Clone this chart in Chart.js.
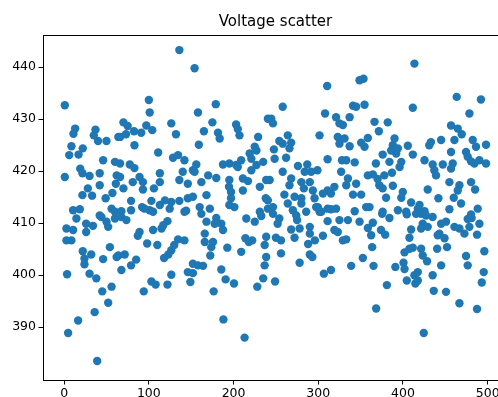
<!DOCTYPE html>
<html>
<head>
<meta charset="utf-8">
<script src="https://cdn.jsdelivr.net/npm/chart.js@4/dist/chart.umd.min.js"></script>
<style>
html,body{margin:0;padding:0;background:#fff;overflow:hidden;width:498px;height:397px;}
#wrap{width:516px;height:397px;}
</style>
</head>
<body>
<div id="wrap"><canvas id="c" width="516" height="397"></canvas></div>
<script>
const sampleIndex = [
0.8,13,11,37,35,40,50,64,8.6,22,6,17,46,60,19,21.6,0.8,30,42,62,61,42,28,21.6,33,57,49,10.6,18.5,42,56,60,
14.5,60,44,50,52,26,34,26,2.7,10.6,2.7,8.6,54,22,32,24,24,46,62,3.5,30,38,56,45,52,36,16.5,4.7,39,
136,154,100,101,70,75,97,126.5,66,73,82.5,91,104,132,83,111,128.5,134.5,142,66,77.5,83,140,152,113,66,81,89,93,113,136,146,70,93,106,79,103,119,126.5,136,146,67.6,79,92,101,113,124.6,144,
95,105,142,73.5,67.6,89,87,105,115,122,117,98,110,134.5,142,130,126.5,123,118,64,71.5,85,79,67.6,146,149,126.5,122,103,108,94,
179,158,175,203,205,165,181.6,183.6,207,229,240.5,159,225,227,219,221,235,156,187.5,195,203,209,205,221,227,154,170,179.6,162,195,211,217,238.5,194.6,211,231,168,197,197,238,152,160,172,195,201,231,240.5,
232.7,162,168,179.6,185.5,187.5,177.7,215,225,238.5,166,166,175.7,173.7,172.5,192.6,209,214,218,222,236.7,152,158,164,152,185.5,190.6,200.5,176.5,235,228,188,213,236.7,238.5,
310.5,258,308,321,325,244.5,246.5,264,301.5,323,325,254,268,258,247.6,266,248.5,262,311,328,276,287,299,284,291.6,327,258,242.6,268,280,290,266,283,293.6,319,311,305.5,315,260,272,280,295.6,240.5,264,280,246.5,299.5,311,321,270,285.7,301.5,
297.5,303.5,315,246.5,254,252,274,275,311,325,268,278,290,290,319,323,250,256,272,288,296,305.5,329,256,290,293,278,306.6,315,249,
413.5,348.7,353.4,411.6,341,354.6,344.7,337,366.4,382,371.5,329,331,358.5,350.6,354.6,337,390,388,405.7,386,394,392,376,411.6,333,343,368,384,398,396,358.5,364.4,370,378,387,335,333,344.7,372,376,388,341,350.6,380,399.8,398,409.6,417.5,343,356.5,360.5,376,394,403.7,
348.7,335,364.4,358.5,375.4,384,404.5,415.4,409.6,407.6,362.4,374,379,333,363.6,401.8,411.6,407.6,352.6,338.8,365.2,391,400.6,401.8,413.5,404.5,414.6,381,368.3,
463.4,492,478.4,456.7,464.6,469.3,482.3,498,486.2,433,431,445,460.7,456.7,474.4,476.4,425.4,435,447,458.7,480.3,490.2,498,484.3,437,439,456.7,454.8,466.6,480.3,464.6,485.1,429.2,459.9,441.8,468.5,488.2,454.8,419.5,425.4,480.3,
421.4,427.2,435,423.3,429.2,421.4,445,450.8,443,449,441,460.7,466.6,472.5,478.4,476.4,481,490.2,487.4,496,421.4,423.3,428.4,440.3,452,474.4,476.4,445,417.5,417.5,435,495.3,493,436.3,450.8,466.6,487.4,424.5
];
const voltage = [
432.7,428.2,427.2,428.0,426.9,425.8,425.8,426.6,424.8,424.4,423.1,423.2,422.1,421.8,420.5,419.6,418.9,419.1,419.6,419.2,417.6,417.3,416.7,415.4,415.3,415.8,414.8,412.5,412.7,411.5,412.8,412.2,
410.9,410.9,411.2,410.3,409.3,409.9,409.5,408.3,409.0,408.7,406.7,406.7,405.4,404.6,404.0,403.2,402.1,403.1,403.5,400.2,400.3,399.4,397.8,396.9,394.7,392.9,391.3,388.9,383.5,
443.3,439.8,433.7,431.3,429.4,428.7,428.8,429.2,426.6,427.1,427.7,427.4,427.9,427.1,425.0,423.6,422.6,423.1,422.1,421.5,421.3,420.6,419.9,420.2,419.6,418.9,417.9,418.9,417.9,417.9,418.3,417.6,416.7,416.5,416.7,414.3,414.3,414.4,414.1,414.3,414.8,412.3,412.5,413.1,412.5,413.5,412.8,412.4,
412.8,412.2,412.2,410.6,411.2,408.3,407.6,408.7,409.0,410.4,409.6,406.1,405.8,406.9,406.7,405.8,404.8,404.0,403.3,403.8,404.0,403.0,401.9,401.0,400.6,398.7,400.1,398.2,398.8,398.2,396.9,
432.9,431.3,429.4,429.0,428.1,427.7,427.4,426.3,426.9,426.6,430.1,425.1,424.7,424.0,423.4,422.4,421.8,421.3,421.3,421.5,421.2,422.1,420.8,420.2,421.2,419.9,419.2,418.7,417.9,418.3,418.6,418.1,418.3,417.0,416.3,417.0,415.4,416.0,414.8,414.8,415.1,413.1,412.8,413.5,413.1,412.2,412.8,
411.4,411.8,410.3,411.0,409.9,408.7,409.9,410.9,410.3,407.4,408.0,406.4,406.4,405.4,403.8,405.3,404.5,407.1,406.4,406.7,405.8,402.2,401.9,401.8,400.4,401.1,399.2,398.4,396.9,399.4,397.8,391.5,388.0,401.9,403.5,
436.4,432.4,431.1,430.4,429.2,430.1,429.2,426.9,426.9,426.6,425.3,425.8,425.5,425.3,424.2,424.4,422.4,422.6,422.3,422.1,421.0,421.3,420.2,419.9,419.9,419.9,419.9,418.3,418.6,417.9,417.9,417.3,416.7,416.3,417.0,416.3,415.7,415.7,415.5,415.1,414.8,414.8,414.4,413.8,413.8,413.1,413.1,412.8,412.8,412.5,412.2,412.2,
413.1,412.2,412.7,411.8,410.9,409.9,411.5,410.6,410.4,410.6,408.8,409.0,409.3,408.0,408.7,408.3,407.2,406.7,407.2,406.0,406.7,407.6,406.7,404.2,404.0,403.5,402.4,400.3,401.0,398.8,
440.7,437.5,437.8,432.2,432.6,432.8,432.4,430.4,429.5,429.4,427.7,428.9,426.3,426.4,425.5,424.7,424.8,426.3,425.0,424.9,424.0,424.4,423.4,423.2,423.2,422.1,421.7,421.5,421.8,421.8,420.8,419.2,419.4,418.5,419.2,419.7,418.6,417.3,417.6,417.3,416.7,417.2,415.5,415.5,414.9,416.0,414.9,414.0,412.8,412.3,413.1,413.1,412.2,412.5,412.2,
410.3,410.6,410.1,409.1,411.8,411.0,411.7,411.8,408.8,407.2,407.7,408.7,407.8,406.9,405.4,404.4,405.3,405.1,403.3,401.8,401.8,401.6,402.4,401.2,400.0,399.0,398.4,398.1,393.6,
434.3,433.8,431.1,428.8,428.2,427.1,426.0,425.1,424.7,425.6,425.0,426.0,426.0,423.7,423.7,422.8,422.1,421.3,421.3,421.5,421.9,422.1,421.5,421.5,420.2,419.2,420.5,417.9,417.3,417.9,416.3,416.5,416.5,414.9,414.8,413.8,412.8,412.7,413.5,412.3,411.7,
411.8,411.5,411.2,409.9,409.3,409.0,409.9,410.3,408.0,407.1,407.7,409.3,409.0,408.0,409.3,410.8,411.0,409.9,407.8,404.6,405.1,403.8,402.7,405.1,405.4,403.7,401.9,401.9,400.6,399.0,400.0,400.6,398.6,397.0,396.8,394.6,393.5,388.9
];
const xTickValues = [0, 100, 200, 300, 400, 500];
const yTickValues = [390, 400, 410, 420, 430, 440];

const points = sampleIndex.map((x, i) => ({x: x, y: voltage[i]}));
const FONT = "'DejaVu Sans', sans-serif";

new Chart(document.getElementById('c'), {
  type: 'scatter',
  data: {
    datasets: [{
      data: points,
      backgroundColor: '#1f77b4',
      borderWidth: 0,
      pointRadius: 4.2,
      pointHoverRadius: 4.2
    }]
  },
  options: {
    responsive: false,
    animation: false,
    events: [],
    layout: {padding: {left: 0, right: 8, top: 0, bottom: 0}},
    plugins: {
      legend: {display: false},
      tooltip: {enabled: false},
      title: {
        display: true,
        fullSize: false,
        text: 'Voltage scatter',
        color: '#000',
        font: {family: FONT, size: 15, weight: 'normal', lineHeight: 1.2},
        padding: {top: 13, bottom: 4}
      }
    },
    scales: {
      x: {
        type: 'linear',
        position: 'bottom',
        min: -24.95,
        max: 523.95,
        afterBuildTicks: s => { s.ticks = xTickValues.map(v => ({value: v})); },
        afterFit: s => { s.height = 17; },
        ticks: {color: '#000', font: {family: FONT, size: 12.5}, padding: 2, maxRotation: 0, autoSkip: false, includeBounds: false},
        grid: {display: true, drawOnChartArea: false, drawTicks: true, tickLength: 4.5, color: '#000', lineWidth: 1},
        border: {display: true, color: '#000', width: 1}
      },
      xTop: {
        type: 'linear',
        position: 'top',
        min: -24.95,
        max: 523.95,
        afterFit: s => { s.height = 0; },
        ticks: {display: false},
        grid: {display: false},
        border: {display: true, color: '#000', width: 1}
      },
      y: {
        type: 'linear',
        min: 379.85,
        max: 446.2,
        afterBuildTicks: s => { s.ticks = yTickValues.map(v => ({value: v})); },
        afterFit: s => { s.width = 43; },
        ticks: {color: '#000', font: {family: FONT, size: 12.5}, padding: 2.5, includeBounds: false},
        grid: {display: true, drawOnChartArea: false, drawTicks: true, tickLength: 4.5, color: '#000', lineWidth: 1},
        border: {display: true, color: '#000', width: 1}
      }
    }
  }
});
</script>
</body>
</html>
